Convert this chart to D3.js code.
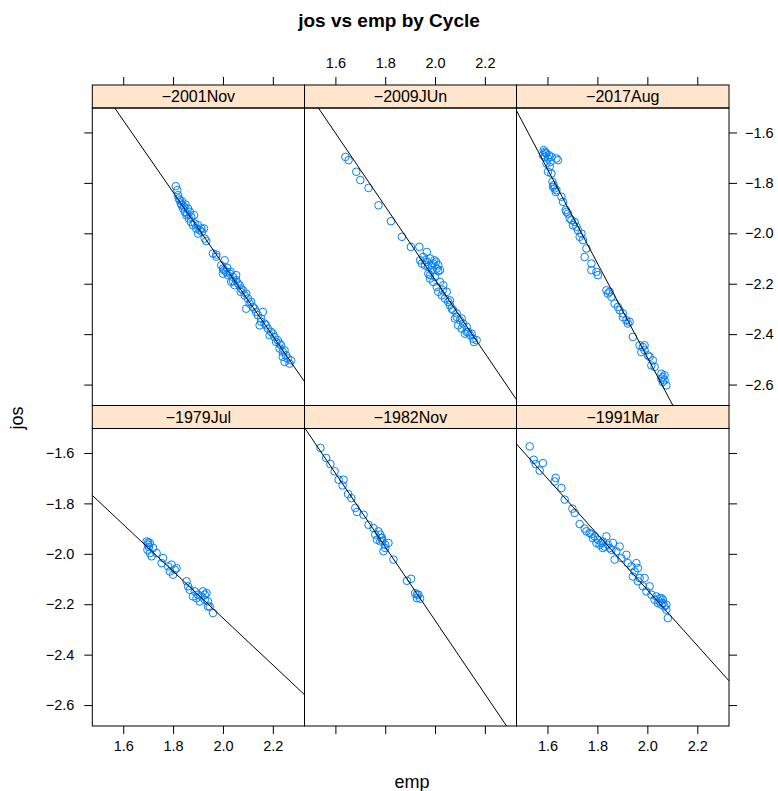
<!DOCTYPE html>
<html>
<head>
<meta charset="utf-8">
<script src="https://cdn.jsdelivr.net/npm/d3@7.9.0/dist/d3.min.js"></script>
<style>
  body { margin: 0; background: #fff; }
  svg { font-family: "Liberation Sans", Arial, sans-serif; }
</style>
</head>
<body>
<svg id="chart" width="778" height="791"></svg>
<script>
// panels in lattice order (bottom-left first)
const cycles = ['−1979Jul', '−1982Nov', '−1991Mar', '−2001Nov', '−2009JUn', '−2017Aug'];

const emp1979 = [1.694,1.700,1.707,1.697,1.707,1.720,1.734,1.714,1.760,1.754,1.780,1.794,1.787,1.807,1.814,1.800,1.854,1.860,1.867,1.887,1.900,1.914,1.920,1.934,1.927,1.940,1.947,1.960,1.880,1.907,
  1.700,1.703,1.894,1.927,1.940];
const jos1979 = [-1.951,-1.964,-1.957,-1.984,-1.997,-1.977,-1.997,-2.010,-2.017,-2.037,-2.050,-2.043,-2.070,-2.063,-2.057,-2.083,-2.109,-2.129,-2.143,-2.149,-2.162,-2.169,-2.149,-2.156,-2.182,-2.189,-2.209,-2.235,-2.169,-2.189,
  -1.955,-1.973,-2.176,-2.162,-2.209];

const emp1982 = [1.540,1.563,1.580,1.597,1.613,1.633,1.629,1.651,1.664,1.680,1.687,1.713,1.733,1.753,1.760,1.773,1.787,1.767,1.780,1.800,1.813,1.793,1.833,1.887,1.904,1.920,1.933,1.927,1.940,1.780,
  1.784,1.789,1.800,1.927];
const jos1982 = [-1.580,-1.620,-1.644,-1.673,-1.706,-1.706,-1.729,-1.763,-1.779,-1.818,-1.834,-1.845,-1.885,-1.898,-1.924,-1.911,-1.937,-1.944,-1.951,-1.964,-1.957,-1.990,-2.023,-2.107,-2.099,-2.156,-2.162,-2.176,-2.178,-1.924,
  -1.937,-1.948,-1.977,-2.162];

const emp1991 = [1.529,1.545,1.553,1.582,1.569,1.633,1.629,1.656,1.669,1.700,1.709,1.729,1.749,1.756,1.776,1.789,1.802,1.816,1.836,1.829,1.849,1.862,1.889,1.876,1.869,1.896,1.916,1.922,1.936,1.956,1.962,1.942,1.962,1.989,1.982,2.009,1.996,2.016,2.036,2.049,2.062,2.042,2.056,2.069,2.076,2.082,1.796,1.822,
  1.769,1.782,1.809,1.822,1.842,1.856,2.049,2.062,2.056,2.076,2.029,1.969,1.949];
const jos1991 = [-1.574,-1.627,-1.644,-1.640,-1.670,-1.699,-1.713,-1.739,-1.785,-1.821,-1.838,-1.882,-1.900,-1.911,-1.922,-1.931,-1.944,-1.957,-1.931,-1.971,-1.977,-1.957,-1.971,-1.990,-2.023,-2.017,-2.004,-2.037,-2.050,-2.037,-2.057,-2.090,-2.109,-2.096,-2.129,-2.129,-2.149,-2.162,-2.169,-2.176,-2.182,-2.195,-2.202,-2.209,-2.222,-2.255,-1.957,-1.951,
  -1.918,-1.938,-1.964,-1.977,-1.964,-1.984,-2.189,-2.195,-2.176,-2.202,-2.182,-2.096,-2.070];

const emp2001 = [1.811,1.817,1.827,1.834,1.840,1.847,1.853,1.863,1.871,1.880,1.893,1.907,1.916,1.927,1.933,1.831,1.844,1.857,1.873,1.887,1.900,1.913,1.960,1.973,2.007,2.000,2.013,2.027,2.040,2.053,2.067,2.080,2.093,2.100,2.093,2.113,2.127,2.140,2.153,2.167,2.180,2.193,2.207,2.220,2.233,2.247,2.253,2.273,2.247,2.227,2.147,2.160,2.020,2.033,2.047,2.073,2.000,2.053,2.087,2.120,2.187,2.213,2.240,2.260,
  1.820,1.823,1.836,1.850,1.860,1.867,1.884,1.900,1.924,1.993,2.004,2.017,2.031,2.040,2.060,2.071,2.107,2.133,2.153,2.173,2.200,2.227,2.240,2.267,1.973];
const jos2001 = [-1.813,-1.829,-1.869,-1.888,-1.902,-1.915,-1.928,-1.941,-1.955,-1.968,-1.981,-1.988,-1.994,-2.021,-2.031,-1.882,-1.895,-1.922,-1.935,-1.961,-2.001,-1.981,-2.080,-2.093,-2.107,-2.140,-2.153,-2.160,-2.173,-2.186,-2.206,-2.226,-2.239,-2.259,-2.299,-2.272,-2.299,-2.325,-2.338,-2.358,-2.378,-2.391,-2.411,-2.424,-2.444,-2.464,-2.484,-2.504,-2.510,-2.457,-2.365,-2.312,-2.166,-2.193,-2.206,-2.219,-2.160,-2.166,-2.246,-2.292,-2.404,-2.431,-2.470,-2.497,
  -1.849,-1.862,-1.873,-1.886,-1.902,-1.915,-1.928,-1.968,-1.981,-2.127,-2.146,-2.137,-2.153,-2.190,-2.199,-2.232,-2.279,-2.312,-2.351,-2.365,-2.398,-2.437,-2.490,-2.517,-2.084];

const emp2009 = [1.640,1.653,1.684,1.700,1.733,1.773,1.823,1.867,1.903,1.937,1.940,1.953,1.967,1.980,1.993,2.007,2.013,1.987,1.973,1.980,1.993,2.007,2.013,2.027,2.040,2.053,2.060,2.073,2.087,2.080,2.100,2.113,2.107,2.127,2.133,2.140,2.153,2.120,1.960,1.967,1.997,2.020,2.033,2.047,2.093,2.167,
  1.947,1.960,1.973,1.987,2.004,2.013,1.980,2.000,2.020,2.031,2.060,2.067,2.107,2.127,2.147,2.156,2.087];
const jos2009 = [-1.697,-1.710,-1.756,-1.789,-1.820,-1.889,-1.952,-2.014,-2.054,-2.054,-2.107,-2.094,-2.113,-2.100,-2.120,-2.140,-2.127,-2.146,-2.160,-2.180,-2.193,-2.213,-2.232,-2.246,-2.259,-2.272,-2.285,-2.305,-2.318,-2.338,-2.345,-2.358,-2.378,-2.371,-2.391,-2.404,-2.418,-2.398,-2.107,-2.074,-2.107,-2.146,-2.206,-2.232,-2.365,-2.424,
  -2.120,-2.127,-2.133,-2.127,-2.113,-2.150,-2.166,-2.173,-2.193,-2.226,-2.266,-2.299,-2.338,-2.391,-2.398,-2.431,-2.332];

const emp2017 = [1.589,1.582,1.596,1.602,1.616,1.636,1.642,1.596,1.609,1.602,1.616,1.620,1.625,1.629,1.636,1.656,1.662,1.673,1.682,1.689,1.709,1.716,1.722,1.729,1.742,1.756,1.749,1.776,1.796,1.802,1.836,1.842,1.856,1.869,1.889,1.902,1.916,1.922,1.942,1.969,1.982,1.989,1.976,2.002,2.022,2.016,2.029,2.056,2.062,2.069,2.076,2.062,1.589,1.696,1.736,1.902,
  1.585,1.593,1.606,1.612,1.622,1.633,1.676,1.702,1.776,1.849,1.882,1.929,1.989,2.009,2.069,2.056];
const jos2017 = [-1.677,-1.690,-1.684,-1.703,-1.697,-1.703,-1.710,-1.723,-1.736,-1.756,-1.763,-1.796,-1.809,-1.822,-1.829,-1.855,-1.875,-1.908,-1.922,-1.941,-1.955,-1.974,-1.988,-2.014,-2.027,-2.060,-2.094,-2.120,-2.153,-2.166,-2.226,-2.239,-2.252,-2.279,-2.305,-2.318,-2.345,-2.358,-2.411,-2.444,-2.451,-2.464,-2.471,-2.484,-2.504,-2.524,-2.530,-2.557,-2.570,-2.583,-2.603,-2.590,-1.697,-1.948,-2.001,-2.332,
  -1.670,-1.681,-1.690,-1.717,-1.816,-1.836,-1.915,-1.968,-2.146,-2.232,-2.292,-2.351,-2.444,-2.490,-2.563,-2.576];

// fitted line per panel (intercept, slope), same order as cycles
const intercepts = [-0.397, 0.654, 0.065, 0.730, 0.726, 1.242];
const slopes = [-0.929, -1.459, -1.104, -1.426, -1.455, -1.867];

const xTicks = [1.6, 1.8, 2.0, 2.2];
const yTicks = [-1.6, -1.8, -2.0, -2.2, -2.4, -2.6];

const empSeries = [emp1979, emp1982, emp1991, emp2001, emp2009, emp2017];
const josSeries = [jos1979, jos1982, jos1991, jos2001, jos2009, jos2017];

const svg = d3.select('#chart');
const colEdges = [92.3, 304.5, 516.5, 729];
const rowTop = [428.5, 108];      // panel top for row 0 (bottom) and row 1 (top)
const panelH = 297.5;
const stripH = 23;
const tick = 8;
const fmt = (v) => d3.format('.1f')(v).replace('-', '−');

svg.append('text')
    .attr('x', 389).attr('y', 27)
    .attr('text-anchor', 'middle')
    .attr('font-size', 19).attr('font-weight', 'bold')
    .text('jos vs emp by Cycle');

svg.append('text')
    .attr('x', 412).attr('y', 788)
    .attr('text-anchor', 'middle')
    .attr('font-size', 18)
    .text('emp');

svg.append('text')
    .attr('transform', 'translate(23,418) rotate(-90)')
    .attr('text-anchor', 'middle')
    .attr('font-size', 18)
    .text('jos');

cycles.forEach((name, i) => {
    let col = i % 3;
    let row = Math.floor(i / 3);
    let x0 = colEdges[col], x1 = colEdges[col + 1];
    let y0 = rowTop[row], y1 = y0 + panelH;

    let x = d3.scaleLinear().domain([1.476, 2.327]).range([x0, x1]);
    let y = d3.scaleLinear().domain([-2.683, -1.503]).range([y1, y0]);

    let g = svg.append('g');

    let clipId = 'clip' + i;
    g.append('clipPath').attr('id', clipId)
        .append('rect').attr('x', x0).attr('y', y0).attr('width', x1 - x0).attr('height', y1 - y0);

    // strip
    g.append('rect')
        .attr('x', x0).attr('y', y0 - stripH)
        .attr('width', x1 - x0).attr('height', stripH)
        .attr('fill', '#ffe5cc').attr('stroke', '#000').attr('stroke-width', 1);
    g.append('text')
        .attr('x', (x0 + x1) / 2).attr('y', y0 - 5.8)
        .attr('text-anchor', 'middle')
        .attr('font-size', 16)
        .text(name);

    // points
    let pts = empSeries[i].map((e, k) => [e, josSeries[i][k]]);
    g.append('g').attr('clip-path', `url(#${clipId})`)
        .selectAll('circle').data(pts).join('circle')
        .attr('cx', (d) => x(d[0]))
        .attr('cy', (d) => y(d[1]))
        .attr('r', 3.8)
        .attr('fill', 'none')
        .attr('stroke', '#0080ff')
        .attr('stroke-width', 1);

    // fitted line
    let xd = x.domain();
    g.append('line')
        .attr('clip-path', `url(#${clipId})`)
        .attr('x1', x(xd[0])).attr('y1', y(intercepts[i] + slopes[i] * xd[0]))
        .attr('x2', x(xd[1])).attr('y2', y(intercepts[i] + slopes[i] * xd[1]))
        .attr('stroke', '#000').attr('stroke-width', 1);

    g.append('rect')
        .attr('x', x0).attr('y', y0)
        .attr('width', x1 - x0).attr('height', y1 - y0)
        .attr('fill', 'none').attr('stroke', '#000').attr('stroke-width', 1);

    // x axis ticks: bottom row gets bottom ticks, top row gets top ticks
    if (row === 0) {
        g.append('g').attr('transform', `translate(0,${y1})`)
            .call(d3.axisBottom(x).tickValues(xTicks).tickSize(tick).tickPadding(7).tickSizeOuter(0)
                .tickFormat(col === 1 ? '' : fmt))
            .call((a) => a.select('.domain').remove());
    } else {
        g.append('g').attr('transform', `translate(0,${y0 - stripH})`)
            .call(d3.axisTop(x).tickValues(xTicks).tickSize(tick).tickPadding(9).tickSizeOuter(0)
                .tickFormat(col === 1 ? fmt : ''))
            .call((a) => a.select('.domain').remove());
    }

    // y axis ticks: left on first column, right on last column
    if (col === 0) {
        g.append('g').attr('transform', `translate(${x0},0)`)
            .call(d3.axisLeft(y).tickValues(yTicks).tickSize(tick).tickPadding(10).tickSizeOuter(0)
                .tickFormat(row === 0 ? fmt : ''))
            .call((a) => a.select('.domain').remove());
    }
    if (col === 2) {
        g.append('g').attr('transform', `translate(${x1},0)`)
            .call(d3.axisRight(y).tickValues(yTicks).tickSize(tick).tickPadding(8).tickSizeOuter(0)
                .tickFormat(row === 1 ? fmt : ''))
            .call((a) => a.select('.domain').remove());
    }
});

svg.selectAll('.tick text')
    .attr('font-size', 14.5)
    .attr('font-family', '"Liberation Sans", Arial, sans-serif')
    .attr('fill', '#000');
svg.selectAll('.tick line').attr('stroke', '#000');
</script>
</body>
</html>
